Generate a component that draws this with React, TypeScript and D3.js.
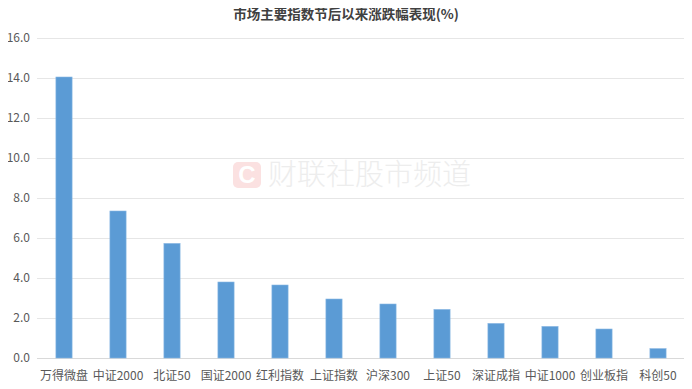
import { useEffect, useRef } from 'react'
import * as d3 from 'd3'

const categories = ['万得微盘', '中证2000', '北证50', '国证2000', '红利指数', '上证指数', '沪深300', '上证50', '深证成指', '中证1000', '创业板指', '科创50']
const values = [14.05, 7.35, 5.73, 3.8, 3.65, 2.95, 2.7, 2.43, 1.73, 1.58, 1.45, 0.47]
const yTicks = [0, 2, 4, 6, 8, 10, 12, 14, 16]
const title = '市场主要指数节后以来涨跌幅表现(%)'

const FONT = '"Noto Sans CJK SC", "Microsoft YaHei", sans-serif'

function BarChart() {
  const svgRef = useRef<SVGSVGElement | null>(null)

  useEffect(() => {
    if (!svgRef.current) return
    const svg = d3.select(svgRef.current)
    svg.selectAll('*').remove()

    const W = 692
    const H = 389
    const margin = { top: 38, right: 7, bottom: 31, left: 37 }
    const width = W - margin.left - margin.right
    const height = H - margin.top - margin.bottom

    svg.append('rect').attr('width', W).attr('height', H).attr('fill', '#fff')

    // title
    svg
      .append('text')
      .attr('x', W / 2)
      .attr('y', 19)
      .attr('text-anchor', 'middle')
      .style('font-family', FONT)
      .style('font-size', '13.5px')
      .style('font-weight', 'bold')
      .attr('fill', '#404040')
      .text(title)

    const g = svg.append('g').attr('transform', `translate(${margin.left},${margin.top})`)

    const x = d3.scaleBand().domain(categories).range([0, width]).paddingInner(0.7).paddingOuter(0.35)
    const y = d3.scaleLinear().domain([0, 16]).range([height, 0])

    // gridlines
    g.selectAll('.grid')
      .data(yTicks)
      .enter()
      .append('line')
      .attr('x1', 0)
      .attr('x2', width)
      .attr('y1', (d) => Math.round(y(d)) + 0.5)
      .attr('y2', (d) => Math.round(y(d)) + 0.5)
      .attr('stroke', (d) => (d === 0 ? '#d9d9d9' : '#e6e6e6'))
      .attr('stroke-width', 1)

    // y labels
    g.selectAll('.ylab')
      .data(yTicks)
      .enter()
      .append('text')
      .attr('x', -7)
      .attr('y', (d) => y(d))
      .attr('dy', '0.35em')
      .attr('text-anchor', 'end')
      .style('font-family', FONT)
      .style('font-size', '12px')
      .attr('fill', '#595959')
      .text((d) => d.toFixed(1))

    // watermark
    const wm = svg.append('g').attr('transform', 'translate(233,162)')
    wm.append('rect').attr('width', 28).attr('height', 26).attr('rx', 5).attr('fill', '#fbe1e1')
    wm.append('text')
      .attr('x', 14)
      .attr('y', 21)
      .attr('text-anchor', 'middle')
      .style('font-family', 'Arial, sans-serif')
      .style('font-size', '24px')
      .style('font-weight', 'bold')
      .attr('fill', '#fff')
      .text('C')
    wm.append('text')
      .attr('x', 35)
      .attr('y', 23)
      .style('font-family', FONT)
      .style('font-size', '29px')
      .style('font-weight', 300)
      .attr('fill', '#ededed')
      .text('财联社股市频道')

    // bars
    const data = categories.map((c, i) => ({ c, v: values[i] }))
    g.selectAll('.bar')
      .data(data)
      .enter()
      .append('rect')
      .attr('x', (d) => x(d.c)!)
      .attr('y', (d) => y(d.v))
      .attr('width', x.bandwidth())
      .attr('height', (d) => y(0) - y(d.v))
      .attr('fill', '#5b9bd5')
      .attr('stroke', '#8bb8e3')
      .attr('stroke-width', 0.6)

    // x labels
    g.selectAll('.xlab')
      .data(categories)
      .enter()
      .append('text')
      .attr('x', (d) => x(d)! + x.bandwidth() / 2)
      .attr('y', height + 22)
      .attr('text-anchor', 'middle')
      .style('font-family', FONT)
      .style('font-size', '12px')
      .attr('fill', '#595959')
      .text((d) => d)
  }, [])

  return <svg ref={svgRef} width={692} height={389} style={{ display: 'block' }} />
}

export default function App() {
  return (
    <div style={{ margin: -8 }}>
      <BarChart />
    </div>
  )
}
